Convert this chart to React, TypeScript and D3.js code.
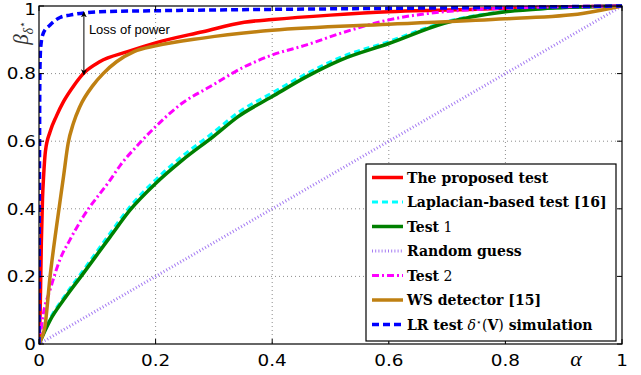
import * as d3 from "d3";

const WIDTH = 641;
const HEIGHT = 375;
const PLOT = { left: 39, right: 622, top: 6, bottom: 344 };

const TICKS = [0, 0.2, 0.4, 0.6, 0.8, 1];
const TICK_LABELS = ["0", "0.2", "0.4", "0.6", "0.8", "1"];

// ROC curves: alpha (false alarm) vs beta (detection)
const PROPOSED_A = [0, 0.002, 0.004, 0.006, 0.008, 0.011, 0.019, 0.03, 0.042, 0.06, 0.076, 0.104, 0.152, 0.2, 0.281, 0.352, 0.4, 0.5, 0.6, 0.7, 0.8, 0.9, 1];
const PROPOSED_B = [0, 0.1, 0.3, 0.43, 0.5, 0.57, 0.628, 0.675, 0.717, 0.765, 0.8, 0.835, 0.865, 0.891, 0.924, 0.952, 0.96, 0.973, 0.983, 0.988, 0.993, 0.997, 1];

const LAPLACE_A = [0, 0.019, 0.042, 0.076, 0.122, 0.156, 0.2, 0.246, 0.3, 0.341, 0.4, 0.459, 0.517, 0.6, 0.695, 0.8, 0.872, 1];
const LAPLACE_B = [0, 0.075, 0.137, 0.218, 0.328, 0.406, 0.486, 0.556, 0.627, 0.684, 0.743, 0.8, 0.848, 0.895, 0.952, 0.984, 0.993, 1];

const TEST1_A = [0, 0.019, 0.042, 0.076, 0.122, 0.156, 0.2, 0.246, 0.3, 0.341, 0.4, 0.459, 0.517, 0.6, 0.695, 0.8, 0.872, 1];
const TEST1_B = [0, 0.07, 0.13, 0.209, 0.317, 0.396, 0.475, 0.544, 0.615, 0.672, 0.732, 0.791, 0.84, 0.889, 0.949, 0.983, 0.993, 1];

const RANDOM_A = [0, 1];
const RANDOM_B = [0, 1];

const TEST2_A = [0, 0.002, 0.0075, 0.019, 0.036, 0.053, 0.076, 0.122, 0.14, 0.167, 0.2, 0.246, 0.293, 0.352, 0.4, 0.459, 0.517, 0.6, 0.695, 0.754, 0.85, 1];
const TEST2_B = [0, 0.022, 0.09, 0.16, 0.25, 0.308, 0.377, 0.485, 0.53, 0.584, 0.643, 0.713, 0.761, 0.82, 0.855, 0.885, 0.919, 0.959, 0.983, 0.99, 0.996, 1];

const WS_A = [0, 0.005, 0.01, 0.019, 0.03, 0.042, 0.05, 0.059, 0.07, 0.093, 0.11, 0.133, 0.163, 0.2, 0.281, 0.4, 0.6, 0.8, 0.932, 1];
const WS_B = [0, 0.02, 0.05, 0.2, 0.347, 0.495, 0.594, 0.653, 0.702, 0.766, 0.8, 0.835, 0.865, 0.882, 0.905, 0.928, 0.946, 0.962, 0.978, 1];

const LR_A = [0, 0.0008, 0.0015, 0.003, 0.0075, 0.019, 0.036, 0.053, 0.08, 0.104, 0.2, 0.4, 0.6, 0.8, 1];
const LR_B = [0, 0.5, 0.8, 0.88, 0.92, 0.944, 0.966, 0.973, 0.98, 0.983, 0.986, 0.99, 0.993, 0.996, 1];

const LEGEND_LABELS = [
  "The proposed test",
  "Laplacian-based test [16]",
  "Test",
  "Random guess",
  "Test",
  "WS detector [15]",
  "LR test",
];

// annotation: gap between LR test and proposed test
const GAP_ALPHA = 0.077;
const GAP_TOP = 0.982;
const GAP_BOTTOM = 0.797;

type Series = {
  a: number[];
  b: number[];
  color: string;
  width: number;
  dash?: string;
};

const SERIES: Series[] = [
  { a: PROPOSED_A, b: PROPOSED_B, color: "#ff0000", width: 3.5 },
  { a: LAPLACE_A, b: LAPLACE_B, color: "#00ffff", width: 3, dash: "6,4" },
  { a: TEST1_A, b: TEST1_B, color: "#008000", width: 3.5 },
  { a: RANDOM_A, b: RANDOM_B, color: "#a57cf2", width: 3, dash: "1,2.2" },
  { a: TEST2_A, b: TEST2_B, color: "#ff00ff", width: 3, dash: "7,3,2,3" },
  { a: WS_A, b: WS_B, color: "#bf8012", width: 3.5 },
  { a: LR_A, b: LR_B, color: "#0000ff", width: 3.5, dash: "7,4" },
];

const SANS = "'DejaVu Sans', sans-serif";
const SERIF = "'DejaVu Serif', serif";
const TICK_STRETCH = 1.15;

export default function App() {
  const x = d3.scaleLinear().domain([0, 1]).range([PLOT.left, PLOT.right]);
  const y = d3.scaleLinear().domain([0, 1]).range([PLOT.bottom, PLOT.top]);

  const line = d3
    .line<[number, number]>()
    .x((d) => x(d[0]))
    .y((d) => y(d[1]))
    .curve(d3.curveMonotoneX);

  const legend = { x: 366, y: 164, w: 250, h: 177, row: 24.5 };

  return (
    <svg
      width={WIDTH}
      height={HEIGHT}
      style={{ position: "absolute", left: 0, top: 0, background: "#fff" }}
    >
      <defs>
        <marker
          id="arrow"
          viewBox="0 0 10 10"
          refX="9"
          refY="5"
          markerWidth="6"
          markerHeight="8"
          orient="auto-start-reverse"
          markerUnits="userSpaceOnUse"
        >
          <path d="M0,0 L10,5 L0,10 L3,5 z" fill="#000" />
        </marker>
        <clipPath id="plot-clip">
          <rect
            x={PLOT.left}
            y={PLOT.top - 2}
            width={PLOT.right - PLOT.left + 2}
            height={PLOT.bottom - PLOT.top + 4}
          />
        </clipPath>
      </defs>

      {/* grid */}
      <g stroke="#8c8c8c" strokeWidth={1} strokeDasharray="1,3">
        {TICKS.slice(1, -1).map((t) => (
          <line key={"gx" + t} x1={x(t)} x2={x(t)} y1={PLOT.top} y2={PLOT.bottom} />
        ))}
        {TICKS.slice(1, -1).map((t) => (
          <line key={"gy" + t} y1={y(t)} y2={y(t)} x1={PLOT.left} x2={PLOT.right} />
        ))}
      </g>

      {/* curves */}
      <g clipPath="url(#plot-clip)" fill="none">
        {SERIES.map((s, i) => (
          <path
            key={i}
            d={line(s.a.map((a, j) => [a, s.b[j]] as [number, number])) || ""}
            stroke={s.color}
            strokeWidth={s.width}
            strokeDasharray={s.dash}
            strokeLinejoin="round"
          />
        ))}
      </g>

      {/* axes box + inward ticks */}
      <rect
        x={PLOT.left}
        y={PLOT.top}
        width={PLOT.right - PLOT.left}
        height={PLOT.bottom - PLOT.top}
        fill="none"
        stroke="#000"
        strokeWidth={1.2}
      />
      <g stroke="#000" strokeWidth={1}>
        {TICKS.map((t) => (
          <g key={"t" + t}>
            <line x1={x(t)} x2={x(t)} y1={PLOT.bottom} y2={PLOT.bottom - 5} />
            <line x1={x(t)} x2={x(t)} y1={PLOT.top} y2={PLOT.top + 5} />
            <line x1={PLOT.left} x2={PLOT.left + 5} y1={y(t)} y2={y(t)} />
            <line x1={PLOT.right} x2={PLOT.right - 5} y1={y(t)} y2={y(t)} />
          </g>
        ))}
      </g>

      {/* tick labels (slightly stretched, like the original) */}
      <g fontFamily={SANS} fontSize={16} fill="#000">
        {TICKS.map((t, i) => (
          <text
            key={"xl" + t}
            transform={`translate(${x(t)}, ${PLOT.bottom + 22}) scale(${TICK_STRETCH}, 1)`}
            textAnchor="middle"
          >
            {TICK_LABELS[i]}
          </text>
        ))}
        {TICKS.map((t, i) => (
          <text
            key={"yl" + t}
            transform={`translate(${PLOT.left - 3}, ${Math.max(y(t) + 5.8, 15)}) scale(${TICK_STRETCH}, 1)`}
            textAnchor="end"
          >
            {TICK_LABELS[i]}
          </text>
        ))}
      </g>

      {/* axis labels */}
      <text
        x={576}
        y={PLOT.bottom + 22}
        fontFamily="'Liberation Serif', serif"
        fontStyle="italic"
        fontSize={22}
        textAnchor="middle"
      >
        α
      </text>
      <text
        transform={`translate(28, ${y(0.885)}) rotate(-90)`}
        fontFamily="'Liberation Serif', serif"
        fontStyle="italic"
        fontSize={21}
        fill="#333"
      >
        β
        <tspan fontSize={14} dy={5}>
          δ
        </tspan>
        <tspan fontSize={11} fontStyle="normal" dy={-7}>
          ⋆
        </tspan>
      </text>

      {/* annotation */}
      <line
        x1={x(GAP_ALPHA)}
        x2={x(GAP_ALPHA)}
        y1={y(GAP_TOP)}
        y2={y(GAP_BOTTOM)}
        stroke="#000"
        strokeWidth={1}
        markerStart="url(#arrow)"
        markerEnd="url(#arrow)"
      />
      <text
        x={x(GAP_ALPHA) + 5}
        y={y(0.916)}
        fontFamily="'Liberation Sans', sans-serif"
        fontSize={13}
        fill="#000"
      >
        Loss of power
      </text>

      {/* legend */}
      <g transform={`translate(${legend.x}, ${legend.y})`}>
        <rect width={legend.w} height={legend.h} fill="#fff" stroke="#000" strokeWidth={1.2} />
        {SERIES.map((s, i) => {
          const cy = 13.5 + i * legend.row;
          return (
            <g key={"lg" + i}>
              <line
                x1={6}
                x2={37}
                y1={cy}
                y2={cy}
                stroke={s.color}
                strokeWidth={s.width}
                strokeDasharray={s.dash}
              />
              <text
                x={41}
                y={cy + 5}
                fontFamily={SERIF}
                fontWeight="bold"
                fontSize={14}
                fill="#000"
              >
                {LEGEND_LABELS[i]}
                {i === 2 && <tspan fontWeight="normal"> 1</tspan>}
                {i === 4 && <tspan fontWeight="normal"> 2</tspan>}
                {i === 6 && (
                  <>
                    <tspan fontWeight="normal" fontStyle="italic"> δ</tspan>
                    <tspan fontWeight="normal" fontSize={9} dy={-5}>⋆</tspan>
                    <tspan fontWeight="normal" dy={5}>(</tspan>
                    <tspan>V</tspan>
                    <tspan fontWeight="normal">)</tspan>
                    <tspan> simulation</tspan>
                  </>
                )}
              </text>
            </g>
          );
        })}
      </g>
    </svg>
  );
}
